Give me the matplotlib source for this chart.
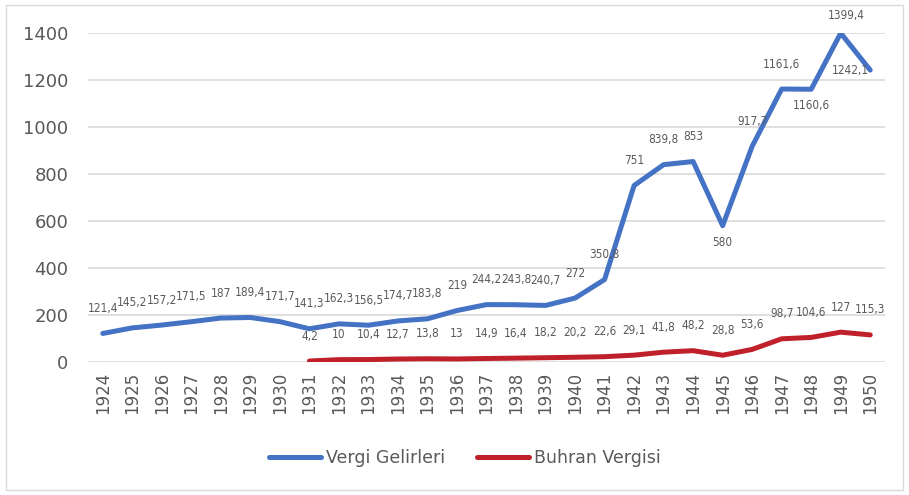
import numpy as np
import matplotlib
matplotlib.use('Agg')
from matplotlib import pyplot as plt
from matplotlib.patches import Rectangle

years = [str(y) for y in range(1924, 1951)]
vergi = [121.4, 145.2, 157.2, 171.5, 187, 189.4, 171.7, 141.3, 162.3, 156.5,
         174.7, 183.8, 219, 244.2, 243.8, 240.7, 272, 350.8, 751, 839.8,
         853, 580, 917.7, 1161.6, 1160.6, 1399.4, 1242.1]
buhran_years = years[7:]
buhran = [4.2, 10, 10.4, 12.7, 13.8, 13, 14.9, 16.4, 18.2, 20.2, 22.6, 29.1,
          41.8, 48.2, 28.8, 53.6, 98.7, 104.6, 127, 115.3]

blue = '#4472C4'
red = '#C0202A'
gray = '#595959'

fig = plt.figure(figsize=(9.09, 4.95), dpi=100)
ax = fig.add_axes([88 / 909, 133 / 495, 797 / 909, 329 / 495])
fig.patches.append(Rectangle((6 / 909, 5 / 495), 897 / 909, 485 / 495,
                             transform=fig.transFigure, fill=False,
                             edgecolor='#D9D9D9', lw=1))

x = np.arange(len(years))
xb = np.arange(7, len(years))
ax.plot(x, vergi, color=blue, lw=3.6, label='Vergi Gelirleri', solid_capstyle='round', zorder=3)
ax.plot(xb, buhran, color=red, lw=3.6, label='Buhran Vergisi', solid_capstyle='round', zorder=3)

# label offsets (points); default above
off_v = {21: (0, -12), 24: (0, -12), 26: (-14, 0), 25: (4, 13)}
for i, v in enumerate(vergi):
    dx, dy = off_v.get(i, (0, 18))
    ax.annotate(('%g' % v).replace('.', ','), (x[i], v), xytext=(dx, dy),
                textcoords='offset points', ha='center', va='center',
                fontsize=8.5, color=gray, fontstretch='condensed', annotation_clip=False)
for i, v in enumerate(buhran):
    ax.annotate(('%g' % v).replace('.', ','), (xb[i], v), xytext=(0, 18),
                textcoords='offset points', ha='center', va='center',
                fontsize=8.5, color=gray, fontstretch='condensed', annotation_clip=False)

ax.set_xlim(-0.5, len(years) - 0.5)
ax.set_ylim(0, 1400)
ax.set_yticks(range(0, 1401, 200))
ax.set_xticks(x)
ax.set_xticklabels(years, rotation=90)
ax.tick_params(axis='both', length=0, colors=gray)
ax.tick_params(axis='x', labelsize=12, pad=7)
ax.tick_params(axis='y', labelsize=13, pad=14)
for s in ax.spines.values():
    s.set_visible(False)
ax.grid(axis='y', color='#D9D9D9', lw=1.2)
ax.set_axisbelow(True)

leg = ax.legend(loc='center', bbox_to_anchor=((465 - 88) / 797, (495 - 458 - 133) / 329),
                ncol=2, frameon=False, fontsize=12.5, handlelength=3.0,
                columnspacing=1.8, handletextpad=0.3)
for t in leg.get_texts():
    t.set_color(gray)

fig.savefig('out.png', dpi=100)
